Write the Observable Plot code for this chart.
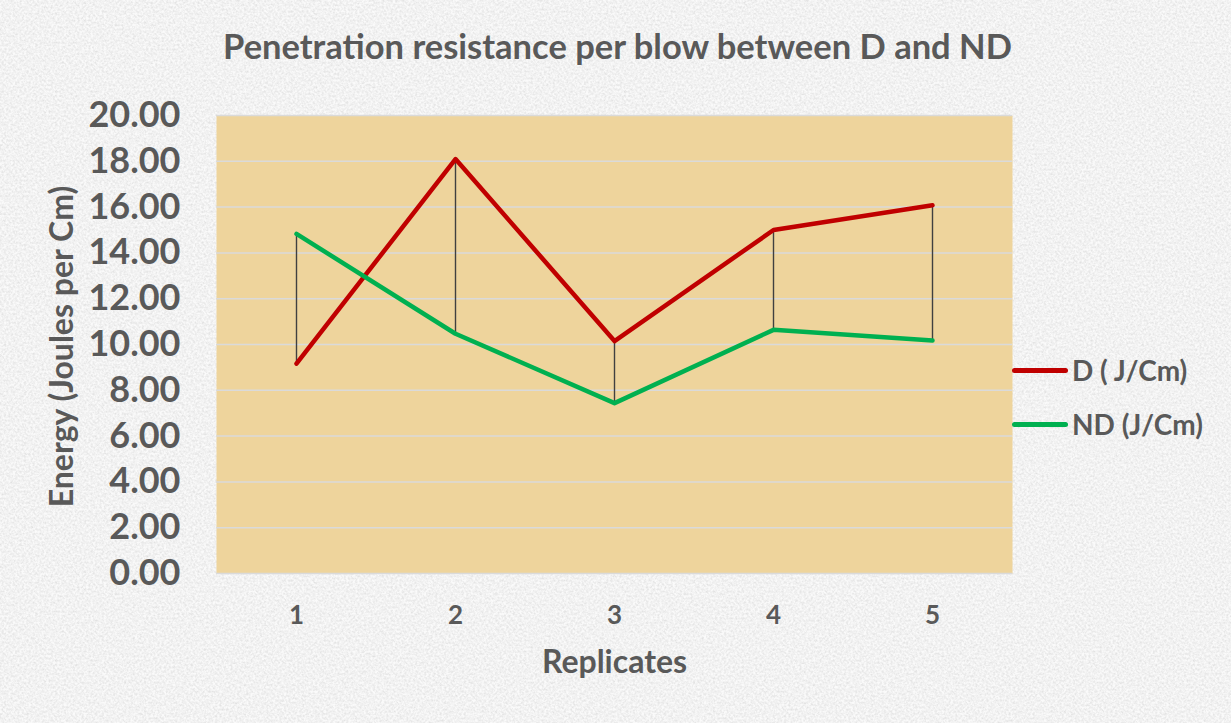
<!DOCTYPE html>
<html><head><meta charset="utf-8">
<script src="https://cdn.jsdelivr.net/npm/d3@7"></script>
<script src="https://cdn.jsdelivr.net/npm/@observablehq/plot@0.6"></script>
<style>
body{margin:0;background:#e8e8e8;}
#wrap{position:relative;width:1231px;height:723px;overflow:hidden;background-color:#e8e8e8;font-family:Lato,"Open Sans",sans-serif;}
#wrap svg{position:absolute;left:0;top:0;}
.leg{position:absolute;left:1012px;display:flex;align-items:center;font-weight:bold;font-size:28px;color:#595959;white-space:nowrap;}
.leg span.sw{display:inline-block;width:56px;height:5px;border-radius:3px;margin-right:4px;}
</style></head><body><div id="wrap"></div>
<script>
const replicates = [1, 2, 3, 4, 5];
const dValues = [9.16, 18.10, 10.15, 15.00, 16.08];
const ndValues = [14.83, 10.47, 7.44, 10.64, 10.17];
const yTicks = [0, 2, 4, 6, 8, 10, 12, 14, 16, 18, 20];
const seriesNames = ["D ( J/Cm)", "ND (J/Cm)"];
const seriesColors = ["#c00000", "#00b050"];
const titleText = "Penetration resistance per blow between D and ND";
const xLabel = "Replicates";
const yLabel = "Energy (Joules per Cm)";

const rows = replicates.flatMap((r, i) => [
  {r, v: dValues[i], s: seriesNames[0]},
  {r, v: ndValues[i], s: seriesNames[1]}
]);
const pairs = replicates.map((r, i) => ({r, d: dValues[i], nd: ndValues[i]}));

const wrap = document.getElementById("wrap");
// subtle paper-like texture for the page background
const noise = "<svg xmlns='http://www.w3.org/2000/svg' width='1231' height='723'><filter id='n'><feTurbulence type='fractalNoise' baseFrequency='0.45' numOctaves='3' seed='7'/><feColorMatrix values='0.6 0 0 0 0.58  0.6 0 0 0 0.58  0.6 0 0 0 0.58  0 0 0 0 0.55'/></filter><rect width='100%' height='100%' fill='%23f3f3f3'/><rect width='100%' height='100%' filter='url(%23n)'/></svg>";
wrap.style.backgroundImage = "url(\"data:image/svg+xml;utf8," + noise + "\")";

const chart = Plot.plot({
  width: 1231, height: 723,
  marginTop: 115, marginBottom: 150, marginLeft: 216, marginRight: 219,
  x: {type: "point", domain: replicates, padding: 0.5},
  y: {domain: [0, 20]},
  color: {domain: seriesNames, range: seriesColors},
  style: {fontFamily: "Lato, 'Open Sans', sans-serif", color: "#595959", background: "transparent", overflow: "visible"},
  marks: [
    Plot.frame({fill: "#eed49c", stroke: null}),
    Plot.ruleY(yTicks, {stroke: "#dadada", strokeWidth: 1.5}),
    Plot.ruleX(pairs, {x: "r", y1: "d", y2: "nd", stroke: "#404040", strokeWidth: 1.4}),
    Plot.line(rows, {x: "r", y: "v", z: "s", stroke: "s", strokeWidth: 4.5}),
    Plot.axisY({ticks: yTicks, tickFormat: d3.format(".2f"), tickSize: 0, tickPadding: 36, fontSize: 36, fontWeight: "bold", label: null}),
    Plot.axisX({tickSize: 0, tickPadding: 32, fontSize: 26, fontWeight: "bold", label: null}),
    Plot.text([titleText], {text: d => d, frameAnchor: "top", lineAnchor: "middle", dy: -68, dx: 3, fontSize: 34.5, fontWeight: "bold", fill: "#595959"}),
    Plot.text([xLabel], {text: d => d, frameAnchor: "bottom", lineAnchor: "middle", dy: 89, fontSize: 32, fontWeight: "bold", fill: "#595959"}),
    Plot.text([yLabel], {text: d => d, frameAnchor: "left", textAnchor: "middle", lineAnchor: "middle", dx: -154, dy: 2, rotate: -90, fontSize: 32, fontWeight: "bold", fill: "#595959"})
  ]
});
wrap.appendChild(chart);
const legY = [370, 424];
seriesNames.forEach((n, i) => {
  const d = document.createElement("div");
  d.className = "leg";
  d.style.top = (legY[i] - 18) + "px";
  d.style.height = "36px";
  d.innerHTML = `<span class="sw" style="background:${seriesColors[i]}"></span>${n}`;
  wrap.appendChild(d);
});
</script></body></html>
